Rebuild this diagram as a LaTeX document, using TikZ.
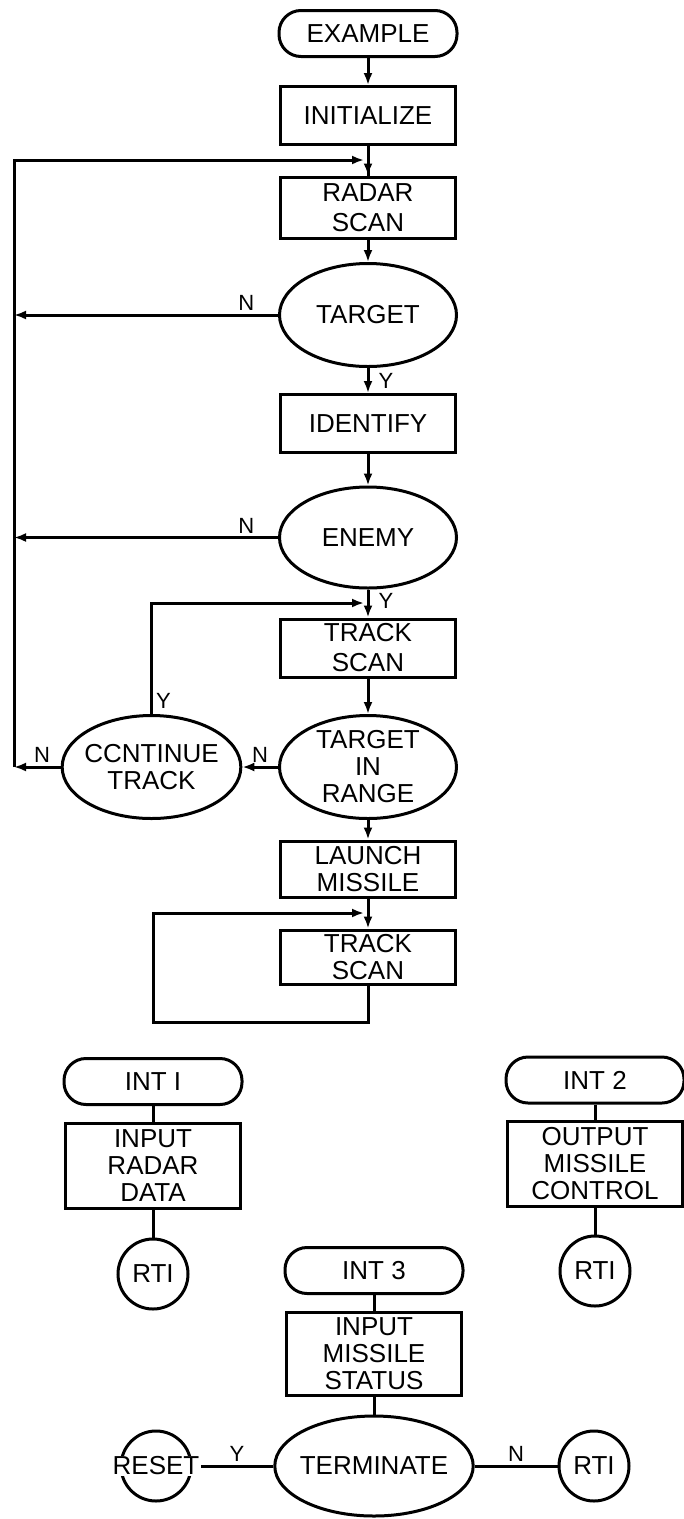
\documentclass[tikz,border=0pt]{standalone}
\usepackage{fontspec}
\setmainfont{Liberation Sans}
\usetikzlibrary{arrows.meta,shapes.geometric,calc}

\begin{document}
\begin{tikzpicture}[
  x=1pt, y=-1pt,
  every node/.style={font=\fontsize{26}{27}\selectfont},
  box/.style={
    draw, line width=3pt,
    minimum width=175pt, minimum height=58pt,
    align=center, inner sep=2pt
  },
  pill/.style={
    draw, line width=3pt, rounded corners=22pt,
    minimum width=178pt, minimum height=46pt, inner sep=2pt
  },
  decision/.style={
    draw, ellipse, line width=3pt,
    minimum width=177pt, minimum height=103pt,
    align=center, inner sep=-4pt
  },
  endcircle/.style={draw, circle, line width=3pt, minimum size=70pt, inner sep=0pt},
  arrow/.style={-{Latex[length=12pt,width=9pt]}, line width=3pt},
  conn/.style={line width=3pt},
  yn/.style={font=\fontsize{22}{24}\selectfont, inner sep=3pt}
]
\useasboundingbox (0,0) rectangle (684,1519);

% main program
\node[pill] (example) at (368,33.5) {EXAMPLE};
\node[box] (init) at (368,115.5) {INITIALIZE};
\node[box, minimum height=61pt, font=\fontsize{26}{30}\selectfont] (radar) at (368,207.5) {RADAR\\SCAN};
\node[decision] (target) at (368,315) {TARGET};
\node[box] (identify) at (368,423.5) {IDENTIFY};
\node[decision, minimum height=101pt] (enemy) at (368,537.5) {ENEMY};
\node[box, font=\fontsize{26}{30}\selectfont] (track) at (368,648) {TRACK\\SCAN};
\node[decision] (tir) at (368,767) {TARGET\\IN\\RANGE};
\node[decision] (cont) at (151.5,767) {CCNTINUE\\TRACK};
\node[box, minimum height=56pt] (launch) at (368,869) {LAUNCH\\MISSILE};
\node[box, minimum height=54pt] (track2) at (368,957) {TRACK\\SCAN};

\coordinate (j1) at (368,160);
\coordinate (j2) at (368,603);
\coordinate (j3) at (368,913);
\coordinate (busbot) at (14,767);
\coordinate (lp) at (153,1022);

\draw[arrow] (example) -- (init);
\draw[conn] (init) -- (radar);
\draw[arrow] (j1) -- (radar);
\draw[arrow] (radar) -- (target);
\draw[arrow] (target) -- node[yn, right, xshift=6pt] {Y} (identify);
\draw[arrow] (identify) -- (enemy);
\draw[arrow] (enemy) -- node[yn, right, xshift=6pt, pos=0.4] {Y} (track);
\draw[arrow] (track) -- (tir);
\draw[arrow] (tir) -- (launch);
\draw[arrow] (launch) -- (track2);

% back to radar scan
\draw[arrow] (target.west) -- node[yn, above, pos=0.12] {N} (target.west -| busbot);
\draw[arrow] (enemy.west) -- node[yn, above, pos=0.12] {N} (enemy.west -| busbot);
\draw[arrow] (tir.west) -- node[yn, above] {N} (cont.east);
\draw[arrow] (cont.west) -- node[yn, above, pos=0.4] {N} (busbot);
\draw[arrow, shorten >=4pt] (busbot) |- (j1);
\draw[arrow, shorten >=4pt] (cont.north) |- node[yn, right, pos=0.06] {Y} (j2);
\draw[arrow, shorten >=4pt] (track2.south) |- (lp) |- (j3);

% interrupts
\node[pill] (int1) at (153,1081.5) {INT I};
\node[box, minimum height=85pt] (inradar) at (153,1165.5) {INPUT\\RADAR\\DATA};
\node[endcircle] (rti1) at (153,1274) {RTI};
\draw[conn] (int1) -- (inradar);
\draw[conn] (inradar) -- (rti1);

\node[pill] (int2) at (595,1080) {INT 2};
\node[box, minimum height=85pt] (outmis) at (595,1163.5) {OUTPUT\\MISSILE\\CONTROL};
\node[endcircle] (rti2) at (595,1271) {RTI};
\draw[conn] (int2) -- (outmis);
\draw[conn] (outmis) -- (rti2);

\node[pill] (int3) at (374,1270.5) {INT 3};
\node[box, minimum height=83pt] (inmis) at (374,1353.5) {INPUT\\MISSILE\\STATUS};
\node[decision, minimum width=176pt, minimum height=100pt] (term) at (374,1466) {TERMINATE};
\node[endcircle, label={[name=resettxt, fill=white, inner sep=1pt]center:RESET}] (reset) at (156,1466) {};
\node[endcircle] (rti3) at (594,1466) {RTI};
\draw[conn] (int3) -- (inmis);
\draw[conn] (inmis) -- (term);
\draw[conn] (term) -- node[yn, above] {Y} (resettxt.east);
\draw[conn] (term) -- node[yn, above] {N} (rti3);
\end{tikzpicture}
\end{document}
